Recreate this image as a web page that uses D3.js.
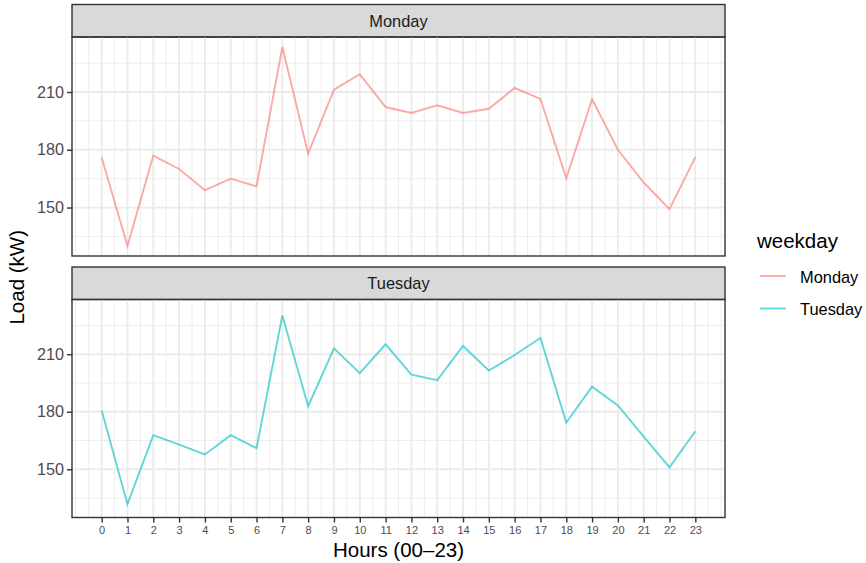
<!DOCTYPE html>
<html>
<head>
<meta charset="utf-8">
<script src="https://cdn.jsdelivr.net/npm/d3@7"></script>
<style>
  body { margin: 0; background: #fff; }
  svg { display: block; font-family: "Liberation Sans", Arial, sans-serif; }
</style>
</head>
<body>
<svg id="chart" width="866" height="563"></svg>
<script>
// Hourly load (kW) for two weekdays
const hours = d3.range(0, 24);
const weekdays = ["Monday", "Tuesday"];
const mondayLoad = [176, 130, 177, 170, 159, 165, 161, 233.4, 178, 211.2, 219.2, 202.2,
                    199.1, 203.1, 199.1, 201.3, 212.1, 206.4, 165.2, 206.2, 180, 163, 149.2, 176.2];
const tuesdayLoad = [180.7, 131.8, 167.8, 162.8, 157.7, 167.8, 161, 230.2, 182.9, 213.1, 200.1, 215.2,
                     199.4, 196.5, 214.3, 201.5, 209.6, 218.5, 174.3, 193.1, 183.3, 167, 151, 169.8];
const yTicks = [150, 180, 210];
const colors = ["#F8766D", "#00BFC4"];

const series = [
  { name: weekdays[0], values: mondayLoad, color: colors[0] },
  { name: weekdays[1], values: tuesdayLoad, color: colors[1] }
];

const svg = d3.select("#chart");
const panelLeft = 72, panelRight = 725;
const panels = [
  { stripTop: 4.5, top: 37, bottom: 256 },
  { stripTop: 267, top: 299.5, bottom: 517.5 }
];

// shared scales with ggplot-style 5% expansion
const allVals = mondayLoad.concat(tuesdayLoad);
const yMin = d3.min(allVals), yMax = d3.max(allVals);
const yPad = (yMax - yMin) * 0.05;
const xPad = (23 - 0) * 0.05;
const x = d3.scaleLinear().domain([0 - xPad, 23 + xPad]).range([panelLeft, panelRight]);

const minorX = d3.range(-1, 24.01, 0.5);
const minorY = [135, 165, 195, 225];
const gridCol = "#EBEBEB";

panels.forEach((p, i) => {
  const y = d3.scaleLinear().domain([yMin - yPad, yMax + yPad]).range([p.bottom, p.top]);
  const g = svg.append("g");

  // strip
  g.append("rect")
    .attr("x", panelLeft).attr("y", p.stripTop)
    .attr("width", panelRight - panelLeft).attr("height", p.top - p.stripTop)
    .attr("fill", "#D9D9D9").attr("stroke", "#333").attr("stroke-width", 1.4);
  g.append("text")
    .attr("x", (panelLeft + panelRight) / 2).attr("y", (p.stripTop + p.top) / 2 + 6)
    .attr("text-anchor", "middle").attr("font-size", 16.4).attr("fill", "#1A1A1A")
    .text(series[i].name);

  // grid
  const grid = g.append("g");
  grid.selectAll(".minx").data(minorX.filter(v => v >= x.domain()[0] && v <= x.domain()[1])).enter()
    .append("line")
    .attr("x1", d => x(d)).attr("x2", d => x(d))
    .attr("y1", p.top).attr("y2", p.bottom)
    .attr("stroke", gridCol).attr("stroke-width", 0.9);
  grid.selectAll(".miny").data(minorY).enter()
    .append("line")
    .attr("x1", panelLeft).attr("x2", panelRight)
    .attr("y1", d => y(d)).attr("y2", d => y(d))
    .attr("stroke", gridCol).attr("stroke-width", 0.9);
  grid.selectAll(".majx").data(hours).enter()
    .append("line")
    .attr("x1", d => x(d)).attr("x2", d => x(d))
    .attr("y1", p.top).attr("y2", p.bottom)
    .attr("stroke", gridCol).attr("stroke-width", 1.8);
  grid.selectAll(".majy").data(yTicks).enter()
    .append("line")
    .attr("x1", panelLeft).attr("x2", panelRight)
    .attr("y1", d => y(d)).attr("y2", d => y(d))
    .attr("stroke", gridCol).attr("stroke-width", 1.8);

  // the series line
  const line = d3.line().x((d, j) => x(hours[j])).y(d => y(d));
  g.append("path")
    .datum(series[i].values)
    .attr("d", line)
    .attr("fill", "none")
    .attr("stroke", series[i].color)
    .attr("stroke-opacity", 0.62)
    .attr("stroke-width", 1.9);

  // panel border
  g.append("rect")
    .attr("x", panelLeft).attr("y", p.top)
    .attr("width", panelRight - panelLeft).attr("height", p.bottom - p.top)
    .attr("fill", "none").attr("stroke", "#333").attr("stroke-width", 1.4);

  // y axis
  const yAxis = d3.axisLeft(y).tickValues(yTicks).tickSize(5).tickPadding(3);
  const ya = g.append("g").attr("transform", `translate(${panelLeft},0)`).call(yAxis);
  ya.select(".domain").remove();
  ya.selectAll(".tick line").attr("stroke", "#333").attr("stroke-width", 1.4);
  ya.selectAll(".tick text").attr("font-size", 16.2).attr("fill", "#4D4D4D")
    .attr("font-family", "Liberation Sans, Arial, sans-serif");

  // x axis only under the bottom panel
  if (i === panels.length - 1) {
    const xAxis = d3.axisBottom(x).tickValues(hours).tickFormat(d3.format("d")).tickSize(5).tickPadding(4);
    const xa = g.append("g").attr("transform", `translate(0,${p.bottom})`).call(xAxis);
    xa.select(".domain").remove();
    xa.selectAll(".tick line").attr("stroke", "#333").attr("stroke-width", 1.4);
    xa.selectAll(".tick text").attr("font-size", 11).attr("fill", "#4D4D4D")
      .attr("font-family", "Liberation Sans, Arial, sans-serif");
  }
});

// axis titles (y title centred on the panel rows)
svg.append("text")
  .attr("x", (panelLeft + panelRight) / 2).attr("y", 557)
  .attr("text-anchor", "middle").attr("font-size", 20.5).attr("fill", "#000")
  .text("Hours (00\u201323)");
svg.append("text")
  .attr("transform", `translate(24,${(panels[0].top + panels[1].bottom) / 2}) rotate(-90)`)
  .attr("text-anchor", "middle").attr("font-size", 20.5).attr("fill", "#000")
  .text("Load (kW)");

// legend
const legend = svg.append("g");
legend.append("text")
  .attr("x", 757).attr("y", 248)
  .attr("font-size", 20.5).attr("fill", "#000")
  .text("weekday");
series.forEach((s, i) => {
  const cy = 276 + i * 32.5;
  legend.append("line")
    .attr("x1", 760).attr("x2", 786).attr("y1", cy).attr("y2", cy)
    .attr("stroke", s.color).attr("stroke-opacity", 0.62).attr("stroke-width", 1.9);
  legend.append("text")
    .attr("x", 800).attr("y", cy + 6.5)
    .attr("font-size", 16.4).attr("fill", "#000")
    .text(s.name);
});
</script>
</body>
</html>
